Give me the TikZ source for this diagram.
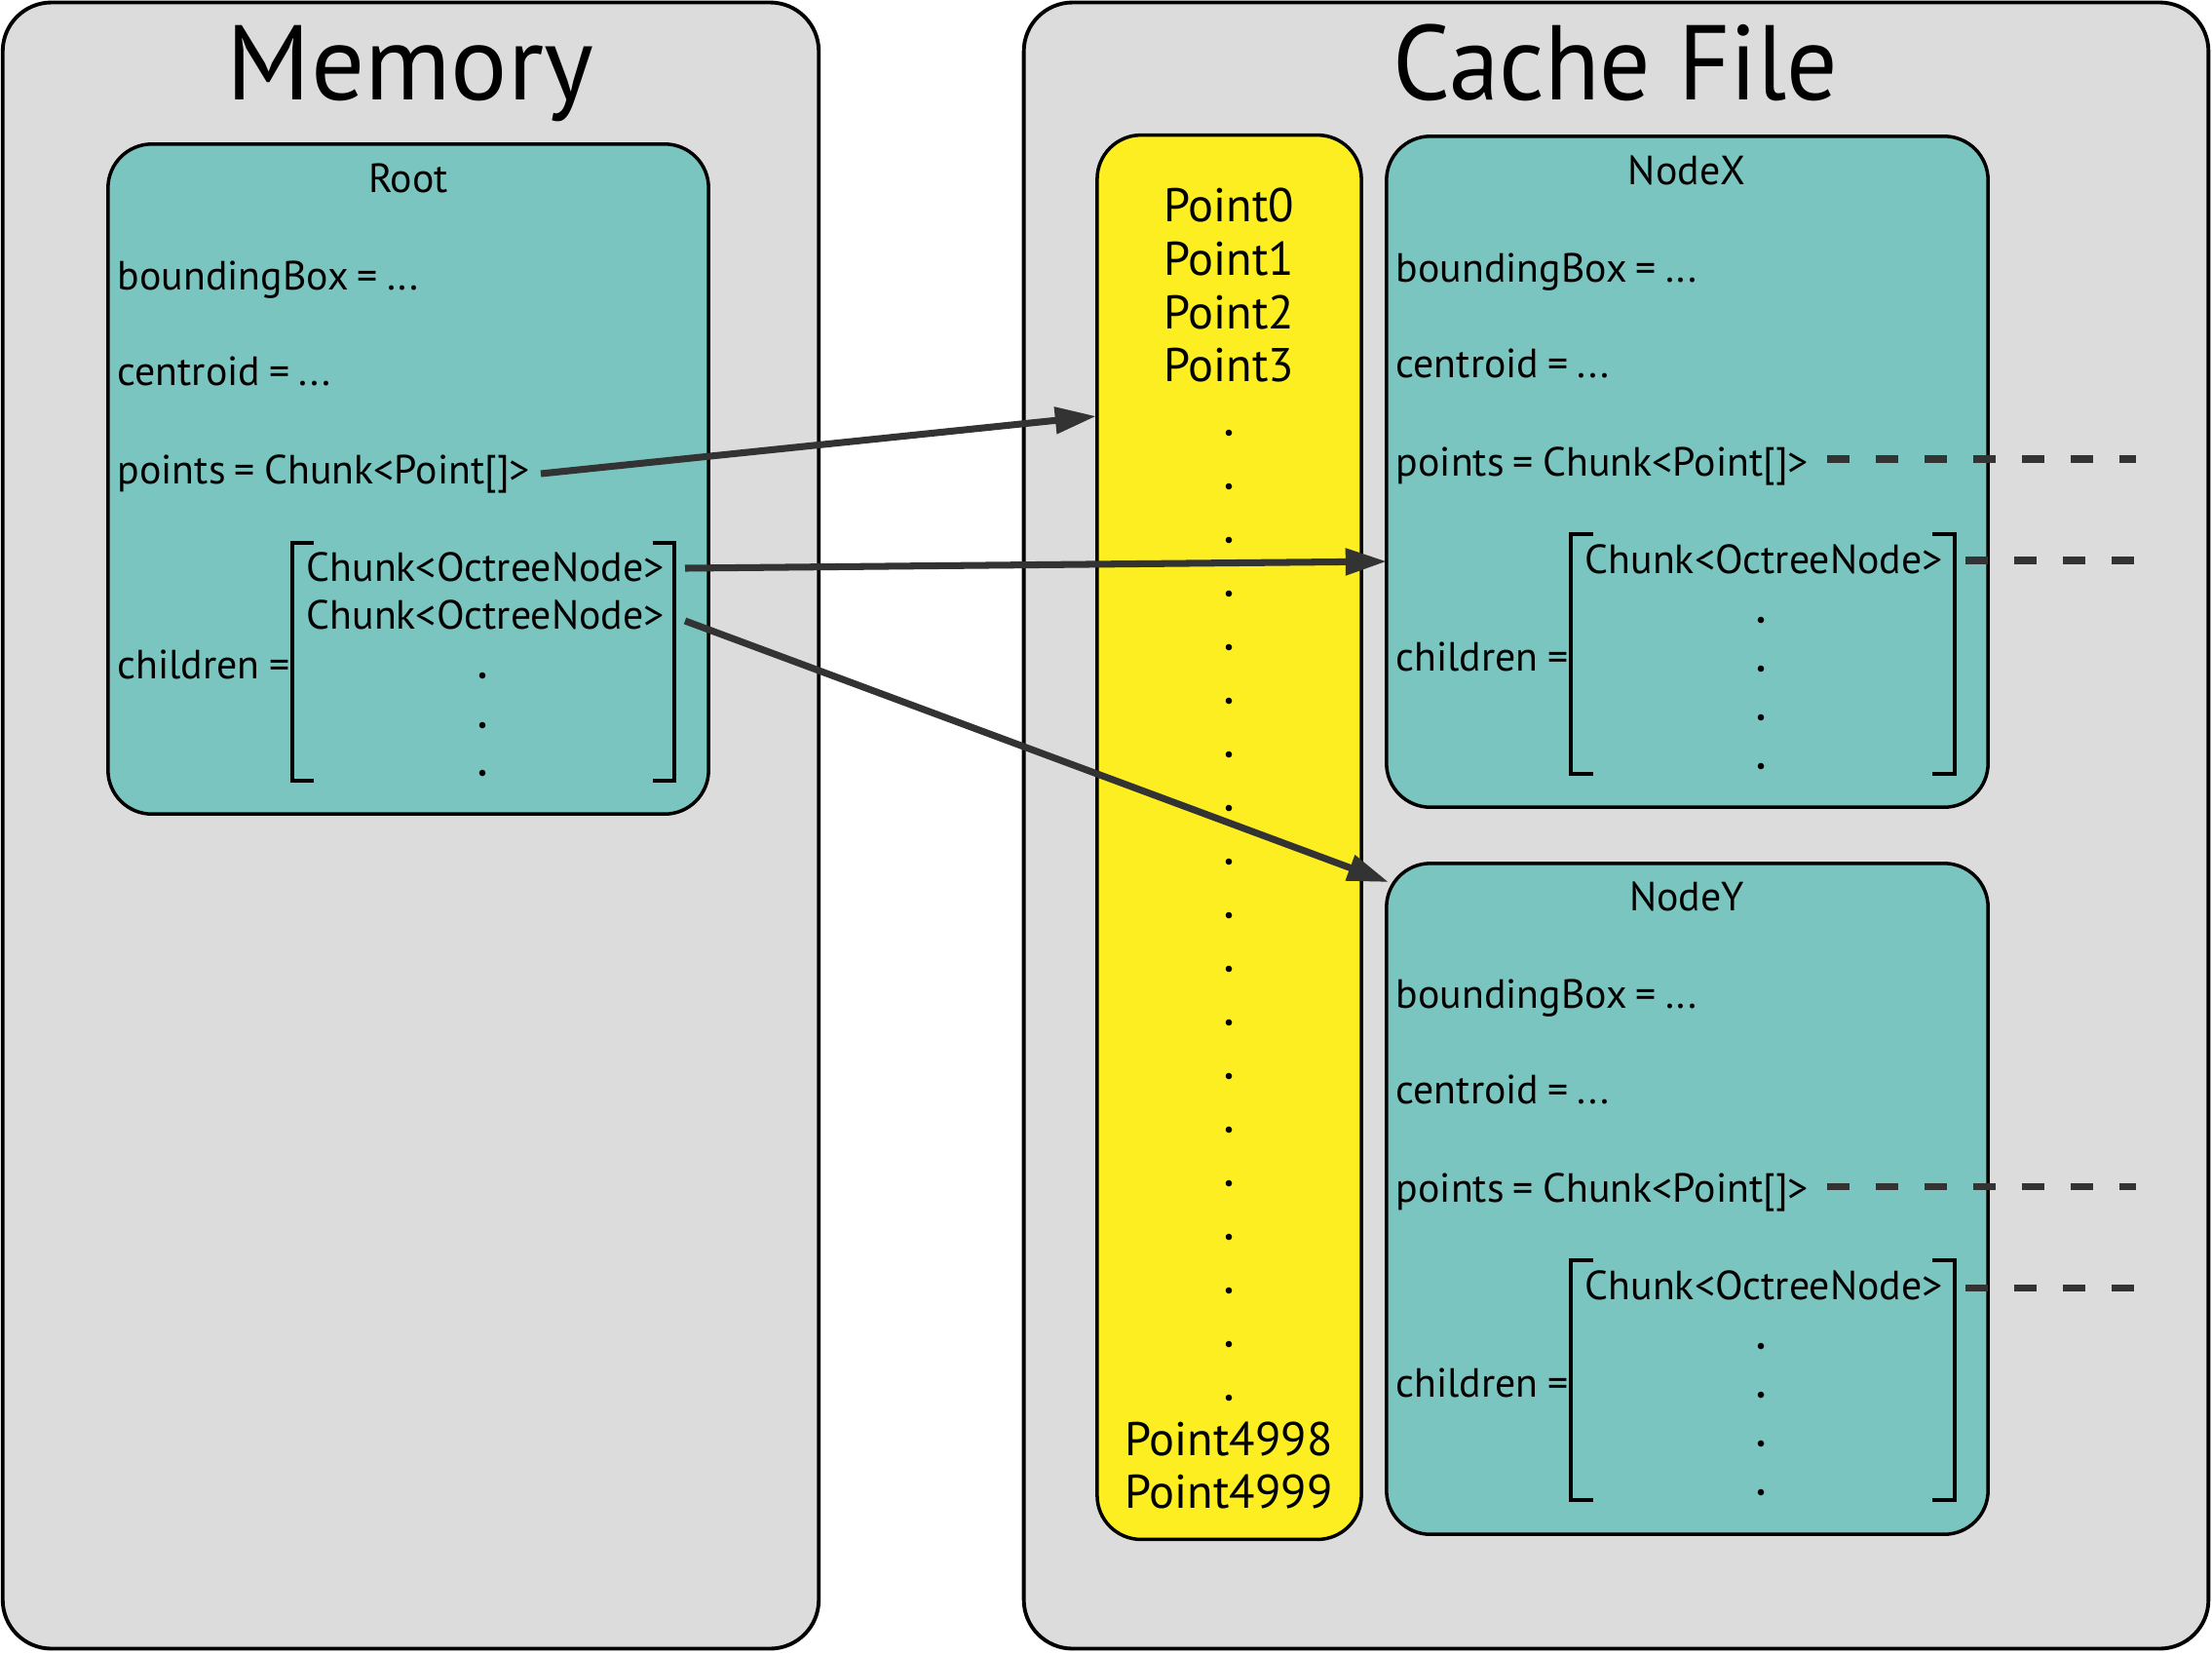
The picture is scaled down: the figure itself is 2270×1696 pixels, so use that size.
\documentclass[tikz,border=0pt]{standalone}
\usepackage{fontspec}
\setmainfont{PT Sans}
\usetikzlibrary{arrows.meta}
\definecolor{panelgray}{HTML}{DCDCDC}
\definecolor{teal}{HTML}{7AC5BF}
\definecolor{ptyellow}{HTML}{FCEE21}
\definecolor{arrowgray}{HTML}{333333}
\newcommand{\bodyfont}{\fontsize{11.9}{14}\selectfont\spaceskip=0.22em plus 0.1em minus 0.05em\relax}
\tikzset{
  panel/.style={draw=black, line width=1.1pt, fill=panelgray, rounded corners=0.5cm, inner sep=0pt},
  tealbox/.style={draw=black, line width=1pt, fill=teal, rounded corners=0.45cm, inner sep=0pt},
  yellowbox/.style={draw=black, line width=1pt, fill=ptyellow, rounded corners=0.45cm, inner sep=0pt},
  title/.style={font=\fontsize{31}{36}\selectfont, inner sep=0pt, anchor=base},
  body/.style={font=\bodyfont, inner sep=0pt, anchor=base west},
  boxlabel/.style={font=\bodyfont, inner sep=0pt, anchor=base},
  ptlabel/.style={font=\fontsize{13.8}{16}\selectfont, inner sep=0pt, anchor=base},
  bracketline/.style={draw=black, line width=1.4pt},
  link/.style={draw=arrowgray, line width=2pt, -{Triangle[length=12pt,width=7.5pt]}},
  dashlink/.style={draw=arrowgray, line width=2pt, dash pattern=on 6.5pt off 7.7pt},
  dotmark/.style={fill=black, draw=none, circle, inner sep=0pt, minimum size=0.066cm}
}
\begin{document}
\begin{tikzpicture}[x=0.01cm,y=-0.01cm]
\useasboundingbox (0,0) rectangle (2270,1696);

% panels
\node[panel, minimum width=8.37cm, minimum height=16.88cm] (mem) at (421.5,847) {};
\node[panel, minimum width=12.15cm, minimum height=16.88cm] (cache) at (1658.5,847) {};
\node[title] (memtitle) at (421,102) {Memory};
\node[title] (cachetitle) at (1658,102) {\scalebox{0.95}[1]{Cache File}};

% Root box
\node[tealbox, minimum width=6.16cm, minimum height=6.87cm] (root) at (419,491.5) {};
\node[boxlabel] (rootlbl) at (419,197) {Root};
\node[body] (rootbb) at (120,297) {boundingBox = ...};
\node[body] (rootcen) at (120,395) {centroid = ...};
\node[body] (rootpts) at (120,496) {points = Chunk<Point[]>};
\node[body] (rootch) at (120,696) {children =};
\node[body] (rootc1) at (314,596) {Chunk<OctreeNode>};
\node[body] (rootc2) at (314,645) {Chunk<OctreeNode>};
\draw[bracketline] (322,557) -- (300,557) -- (300,801) -- (322,801);
\draw[bracketline] (670,557) -- (692,557) -- (692,801) -- (670,801);
\foreach \yy [count=\i] in {693,744,793} \node[dotmark] (rootdot\i) at (495,\yy) {};

% Yellow point column
\node[yellowbox, minimum width=2.71cm, minimum height=14.40cm] (ybox) at (1261.5,859) {};
\node[ptlabel] (p0) at (1261,227) {Point0};
\node[ptlabel] (p1) at (1261,282) {Point1};
\node[ptlabel] (p2) at (1261,337) {Point2};
\node[ptlabel] (p3) at (1261,391) {Point3};
\foreach \i in {0,...,18} \node[dotmark] (ydot\i) at (1261,444+55*\i) {};
\node[ptlabel] (p4998) at (1261,1493) {Point4998};
\node[ptlabel] (p4999) at (1261,1547) {Point4999};

% NodeX
\node[tealbox, minimum width=6.17cm, minimum height=6.88cm] (nodex) at (1731.5,484) {};
\node[boxlabel] (nxlbl) at (1731,189) {NodeX};
\node[body] (nxbb) at (1432,289) {boundingBox = ...};
\node[body] (nxcen) at (1432,387) {centroid = ...};
\node[body] (nxpts) at (1432,488) {points = Chunk<Point[]>};
\node[body] (nxch) at (1432,688) {children =};
\node[body] (nxc1) at (1626,588) {Chunk<OctreeNode>};
\draw[bracketline] (1635,548) -- (1612,548) -- (1612,794) -- (1635,794);
\draw[bracketline] (1983,548) -- (2006,548) -- (2006,794) -- (1983,794);
\foreach \yy [count=\i] in {636,686,736,786} \node[dotmark] (nxdot\i) at (1807,\yy) {};

% NodeY
\node[tealbox, minimum width=6.17cm, minimum height=6.88cm] (nodey) at (1731.5,1230) {};
\node[boxlabel] (nylbl) at (1731,934) {NodeY};
\node[body] (nybb) at (1432,1034) {boundingBox = ...};
\node[body] (nycen) at (1432,1132) {centroid = ...};
\node[body] (nypts) at (1432,1233) {points = Chunk<Point[]>};
\node[body] (nych) at (1432,1433) {children =};
\node[body] (nyc1) at (1626,1333) {Chunk<OctreeNode>};
\draw[bracketline] (1635,1293) -- (1612,1293) -- (1612,1539) -- (1635,1539);
\draw[bracketline] (1983,1293) -- (2006,1293) -- (2006,1539) -- (1983,1539);
\foreach \yy [count=\i] in {1381,1431,1481,1531} \node[dotmark] (nydot\i) at (1807,\yy) {};

% connector endpoints
\coordinate (a1s) at (555,486);
\coordinate (a1e) at (1125,427);
\coordinate (a2s) at (703,583);
\coordinate (a2e) at (1423,576);
\coordinate (a3s) at (703,637);
\coordinate (a3e) at (1425,905);

\draw[link] (a1s) -- (a1e);
\draw[link] (a2s) -- (a2e);
\draw[link] (a3s) -- (a3e);

% dashed continuations
\coordinate (dxps) at (1875,471);
\coordinate (dxpe) at (2192,471);
\coordinate (dxcs) at (2017,575);
\coordinate (dxce) at (2192,575);
\coordinate (dyps) at (1875,1217);
\coordinate (dype) at (2192,1217);
\coordinate (dycs) at (2017,1321);
\coordinate (dyce) at (2192,1321);
\draw[dashlink] (dxps) -- (dxpe);
\draw[dashlink] (dxcs) -- (dxce);
\draw[dashlink] (dyps) -- (dype);
\draw[dashlink] (dycs) -- (dyce);
\end{tikzpicture}
\end{document}
